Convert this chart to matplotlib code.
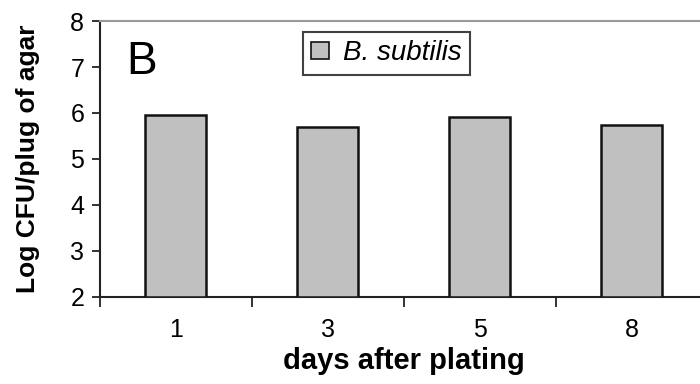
import matplotlib
matplotlib.use("Agg")
import matplotlib.pyplot as plt
import numpy as np

plt.rcParams["font.family"] = ["Liberation Sans", "DejaVu Sans"]

# data
days = ["1", "3", "5", "8"]
log_cfu = [5.96, 5.70, 5.92, 5.73]
series_name = "B. subtilis"

fig = plt.figure(figsize=(7.0, 3.84), dpi=100)
ax = fig.add_axes([0.1423, 0.2266, 0.869, 0.7187])

x = np.arange(len(days))
ax.bar(x, np.array(log_cfu) - 2, bottom=2, width=0.4, color="#c0c0c0",
       edgecolor="#111111", linewidth=1.8, label=series_name, zorder=3)

ax.set_xlim(-0.5, len(days) - 0.5)
ax.set_ylim(2, 8)
ax.set_yticks(range(2, 9))
ax.tick_params(axis="y", direction="out", length=6, width=1.3,
               labelsize=18, pad=5, color="#222222")
ax.set_xticks(x)
ax.set_xticklabels(days)
ax.tick_params(axis="x", which="major", length=0, labelsize=18, pad=15)
ax.set_xticks(np.arange(-0.5, len(days), 1.0), minor=True)
ax.tick_params(axis="x", which="minor", direction="out", length=7, width=1.3,
               color="#222222")

for side in ("left", "bottom"):
    ax.spines[side].set_linewidth(1.5)
    ax.spines[side].set_color("#222222")
ax.spines["top"].set_color("#999999")
ax.spines["top"].set_linewidth(1.5)
ax.spines["right"].set_visible(False)

ax.set_ylabel("Log CFU/plug of agar", fontsize=19, fontweight="bold", labelpad=22)
ax.set_xlabel("days after plating", fontsize=21, fontweight="bold", labelpad=4)

ax.text(0.043, 0.93, "B", transform=ax.transAxes, fontsize=33,
        ha="left", va="top")

leg = ax.legend(loc="upper left", bbox_to_anchor=(0.334, 0.96),
                prop={"style": "italic", "size": 20}, frameon=True,
                fancybox=False, handlelength=0.65, handleheight=0.6,
                handletextpad=0.5, borderpad=0.3, borderaxespad=0)
leg.get_frame().set_edgecolor("#111111")
leg.get_frame().set_linewidth(1.5)
for h in leg.legend_handles:
    h.set_linewidth(1.2)

fig.savefig("out.png", dpi=100)
